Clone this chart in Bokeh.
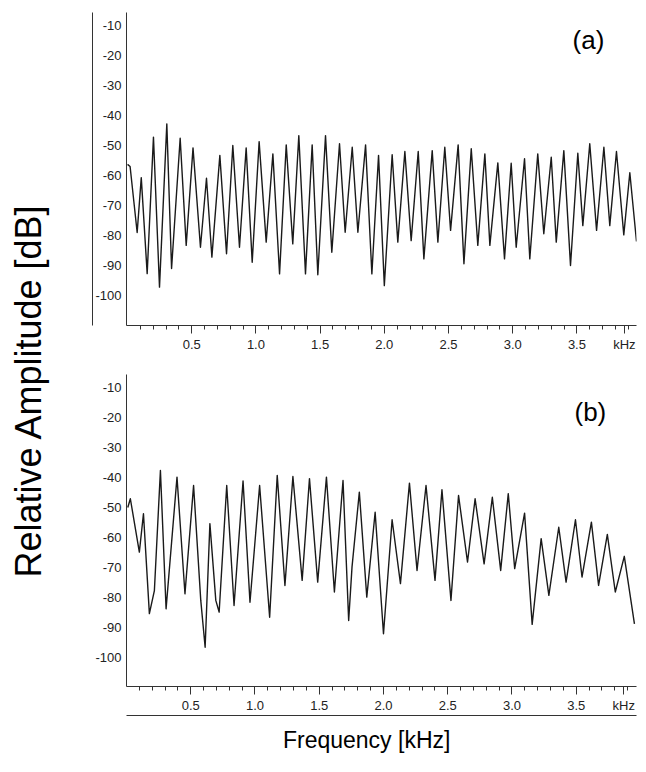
import math
from bokeh.plotting import figure
from bokeh.models import (Range1d, FixedTicker, PrintfTickFormatter, Label, LinearAxis, Spacer)
from bokeh.layouts import row, column
from bokeh.embed import file_html
from bokeh.resources import INLINE

# ---------------- data ----------------
freq_a = [0.0, 0.02, 0.075, 0.107, 0.153, 0.202, 0.249, 0.306, 0.343, 0.41, 0.457, 0.51,
          0.568, 0.615, 0.657, 0.719, 0.771, 0.82, 0.872, 0.924, 0.971, 1.025, 1.08, 1.132,
          1.184, 1.236, 1.287, 1.334, 1.386, 1.438, 1.482, 1.542, 1.591, 1.651, 1.695, 1.75,
          1.794, 1.854, 1.903, 1.955, 2.0, 2.061, 2.105, 2.16, 2.209, 2.264, 2.308, 2.373,
          2.417, 2.471, 2.516, 2.575, 2.62, 2.677, 2.728, 2.783, 2.822, 2.884, 2.936, 2.988,
          3.027, 3.092, 3.133, 3.195, 3.242, 3.3, 3.339, 3.398, 3.45, 3.507, 3.546, 3.6,
          3.653, 3.71, 3.756, 3.808, 3.865, 3.912, 3.964]
db_a = [-56.3, -57.0, -79.0, -60.7, -92.7, -47.2, -97.2, -42.8, -91.0, -47.6, -83.3, -50.8,
        -83.9, -60.9, -87.2, -53.3, -86.1, -50.0, -83.9, -50.8, -88.9, -48.7, -82.2, -52.8,
        -92.8, -49.8, -82.8, -46.7, -92.8, -49.8, -93.1, -46.7, -85.6, -49.4, -78.9, -50.6,
        -78.9, -49.8, -92.8, -53.3, -96.7, -53.1, -82.2, -52.0, -81.7, -52.0, -87.8, -51.7,
        -82.2, -50.6, -78.3, -49.8, -89.4, -51.1, -83.3, -52.8, -83.3, -55.8, -87.8, -55.9,
        -83.9, -54.4, -87.8, -52.8, -79.4, -53.9, -82.2, -51.7, -90.0, -52.6, -76.7, -49.4,
        -78.3, -50.6, -76.7, -52.0, -79.8, -59.1, -82.0]

freq_b = [0.01, 0.03, 0.10, 0.132, 0.178, 0.217, 0.264, 0.308, 0.393, 0.455, 0.522, 0.578,
          0.612, 0.649, 0.695, 0.721, 0.78, 0.837, 0.907, 0.961, 1.036, 1.114, 1.173, 1.233,
          1.295, 1.367, 1.424, 1.488, 1.556, 1.618, 1.685, 1.729, 1.755, 1.812, 1.87, 1.935,
          2.0, 2.067, 2.132, 2.202, 2.261, 2.331, 2.401, 2.455, 2.525, 2.584, 2.654, 2.713,
          2.783, 2.847, 2.912, 2.971, 3.021, 3.098, 3.157, 3.227, 3.287, 3.364, 3.421, 3.494,
          3.545, 3.618, 3.674, 3.742, 3.804, 3.874, 3.953]
db_b = [-50.0, -47.1, -64.9, -52.1, -85.4, -77.7, -37.7, -83.8, -39.9, -78.8, -42.7, -81.0,
        -96.6, -55.4, -81.0, -84.9, -42.7, -82.7, -41.2, -81.6, -42.7, -86.6, -39.3, -76.0,
        -39.7, -74.3, -40.4, -74.9, -39.9, -78.2, -41.0, -87.7, -69.9, -44.9, -79.9, -51.6,
        -92.1, -54.1, -75.4, -41.9, -71.0, -42.7, -74.3, -44.1, -81.0, -46.0, -68.2, -47.1,
        -68.8, -46.6, -71.0, -45.4, -70.4, -51.9, -89.0, -60.4, -79.3, -56.6, -74.9, -54.1,
        -73.2, -54.9, -76.0, -59.0, -78.2, -66.3, -88.8]

y_ticks = [-10, -20, -30, -40, -50, -60, -70, -80, -90, -100]
y_tick_labels = ["-10", "-20", "-30", "-40", "-50", "-60", "-70", "-80", "-90", "-100"]
x_ticks = [0.5, 1.0, 1.5, 2.0, 2.5, 3.0, 3.5, 3.87]
x_tick_labels = ["0.5", "1.0", "1.5", "2.0", "2.5", "3.0", "3.5", "kHz"]
x_minor_ticks = [0.1, 0.2, 0.3, 0.4, 0.6, 0.7, 0.8, 0.9, 1.1, 1.2, 1.3, 1.4, 1.6, 1.7,
                 1.8, 1.9, 2.1, 2.2, 2.3, 2.4, 2.6, 2.7, 2.8, 2.9, 3.1, 3.2, 3.3, 3.4,
                 3.6, 3.7, 3.8, 3.9]
panel_tags = ["(a)", "(b)"]
y_title = "Relative Amplitude [dB]"
x_title = "Frequency [kHz]"

FONT = "Liberation Sans"
INK = "#1a1a1a"
AXIS = "#333333"
TXT = "#222222"


def bare_axis():
    ax = LinearAxis(ticker=FixedTicker(ticks=[]))
    ax.major_tick_line_color = None
    ax.minor_tick_line_color = None
    ax.major_tick_out = 0
    ax.minor_tick_out = 0
    ax.major_label_standoff = 0
    ax.major_label_text_font_size = "0px"
    ax.axis_line_color = AXIS
    return ax


def make_panel(freq, db, xr, yr, width, height, borders, tag, tag_xy):
    p = figure(width=width, height=height, x_range=Range1d(*xr), y_range=Range1d(*yr),
               output_backend="svg", toolbar_location=None,
               min_border_left=borders[0], min_border_right=borders[1],
               min_border_top=borders[2], min_border_bottom=borders[3])
    p.outline_line_color = None
    p.grid.visible = False
    p.line(freq, db, line_color=INK, line_width=1.4, line_join="round")

    xa = p.xaxis[0]
    xa.ticker = FixedTicker(ticks=x_ticks, minor_ticks=x_minor_ticks)
    xa.formatter = PrintfTickFormatter(format="%.1f")
    xa.major_label_overrides = {t: l for t, l in zip(x_ticks, x_tick_labels)}
    xa.major_tick_in = 0
    xa.major_tick_out = 8
    xa.minor_tick_in = 0
    xa.minor_tick_out = 4
    xa.axis_line_color = AXIS
    xa.major_tick_line_color = AXIS
    xa.minor_tick_line_color = AXIS
    xa.major_label_standoff = 3
    xa.major_label_text_font = FONT
    xa.major_label_text_font_size = "13px"
    xa.major_label_text_color = TXT

    ya = p.yaxis[0]
    ya.ticker = FixedTicker(ticks=y_ticks)
    ya.major_label_overrides = {t: l for t, l in zip(y_ticks, y_tick_labels)}
    ya.major_tick_line_color = None
    ya.minor_tick_line_color = None
    ya.major_tick_out = 0
    ya.major_tick_in = 0
    ya.minor_tick_out = 0
    ya.minor_tick_in = 0
    ya.major_label_standoff = 5
    ya.major_label_text_font = FONT
    ya.major_label_text_font_size = "13px"
    ya.major_label_text_color = TXT
    ya.axis_line_color = AXIS

    p.add_layout(Label(x=tag_xy[0], y=tag_xy[1], text=tag, text_align="center",
                       text_baseline="middle", text_font=FONT, text_font_size="26px",
                       text_color="black"))
    return p


# panel (a): frame at page x 126..636, y 12..325
fig_a = make_panel(freq_a, db_a, (-0.008, 3.964), (-110.0, -5.67), 550, 357,
                   (38, 2, 4, 40), panel_tags[0], (3.59, -15.0))
fig_a.add_layout(bare_axis(), "left")

# panel (b): frame at page x 124..636, y 374..686
fig_b = make_panel(freq_b, db_b, (0.0, 3.969), (-109.7, -5.67), 550, 355,
                   (36, 2, 9, 34), panel_tags[1], (3.61, -18.3))
fig_b.add_layout(bare_axis(), "below")

# big y title
lf = figure(width=80, height=756, x_range=Range1d(0, 80), y_range=Range1d(0, 756),
            output_backend="svg", toolbar_location=None, min_border=0,
            x_axis_type=None, y_axis_type=None)
lf.outline_line_color = None
lf.add_layout(Label(x=20, y=374, text=y_title, angle=math.pi / 2, text_align="center",
                    text_baseline="middle", text_font=FONT, text_font_size="36px",
                    text_color="black"))

# big x title
xf = figure(width=550, height=44, x_range=Range1d(0, 550), y_range=Range1d(0, 44),
            output_backend="svg", toolbar_location=None, min_border=0,
            x_axis_type=None, y_axis_type=None)
xf.outline_line_color = None
xf.add_layout(Label(x=259, y=25, text=x_title, text_align="center", text_baseline="middle",
                    text_font=FONT, text_font_size="23px", text_color="black"))

body = row(lf, column(fig_a, fig_b, xf))
layout = column(Spacer(height=8, width=10), row(Spacer(width=8, height=10), body))
open("out.html", "w").write(file_html(layout, INLINE))
